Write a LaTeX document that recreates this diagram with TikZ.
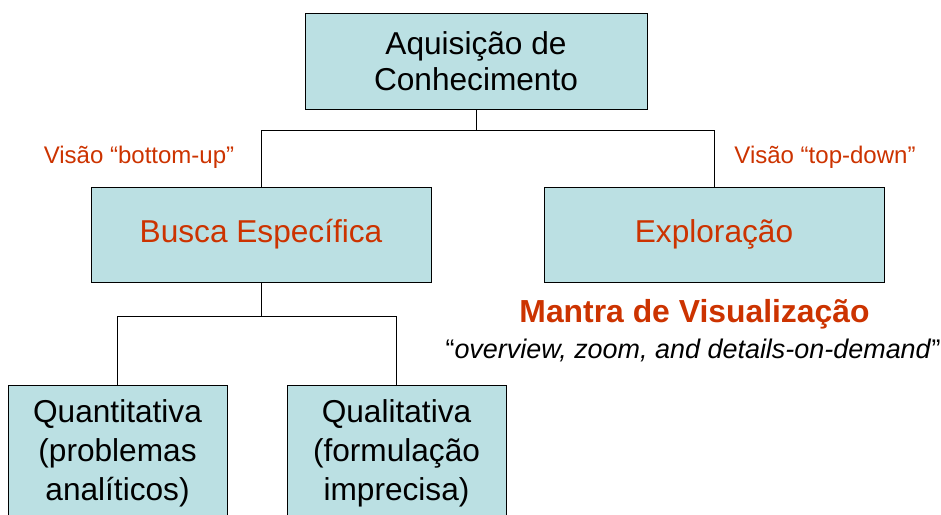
\documentclass[tikz,border=0pt]{standalone}
\usepackage{fontspec}
\setmainfont{Liberation Sans}
\usepackage{tikz}
\usetikzlibrary{positioning}
\usepackage{xcolor}
\definecolor{boxfill}{RGB}{187,224,227}
\definecolor{labelred}{RGB}{204,51,0}

\begin{document}
\begin{tikzpicture}[
    % Node styles
    topic/.style={rectangle, draw=black, line width=0.6pt, fill=boxfill, align=center, inner sep=0pt,
        font=\fontsize{27}{31}\selectfont},
    viewlabel/.style={text=labelred, inner sep=0pt, anchor=base, font=\fontsize{20.5}{24}\selectfont},
    link/.style={draw=black, line width=0.6pt},
]
\useasboundingbox (0,0) rectangle (28.23,-15.45);

% ============================================================================
% TOP: ROOT
% ============================================================================
\node[topic, minimum width=10.26cm, minimum height=2.88cm] (aquisicao) at (14.28, -1.83) {Aquisição de\\Conhecimento};

% ============================================================================
% MIDDLE: TWO APPROACHES
% ============================================================================
\node[topic, minimum width=10.2cm, minimum height=2.85cm, text=labelred] (busca) at (7.83, -7.035) {\raisebox{-2pt}{Busca Específica}};
\node[topic, minimum width=10.2cm, minimum height=2.85cm, text=labelred] (exploracao) at (21.42, -7.035) {\raisebox{-2pt}{Exploração}};

\node[viewlabel] (bottomup) at (4.17, -4.92) {Visão “bottom-up”};
\node[viewlabel] (topdown) at (24.75, -4.92) {Visão “top-down”};

% Mantra below Exploracao
\node[anchor=base, inner sep=0pt, text=labelred, font=\fontsize{27.2}{32}\selectfont\bfseries] (mantra) at (20.835, -9.66) {Mantra de Visualização};
\node[anchor=base, inner sep=0pt, font=\fontsize{23}{27}\selectfont] (overview) at (20.79, -10.74) {“\textit{overview, zoom, and details-on-demand}”};

% ============================================================================
% BOTTOM: KINDS OF SEARCH
% ============================================================================
\node[topic, minimum width=6.57cm, minimum height=4.08cm, font=\fontsize{27}{33}\selectfont] (quanti) at (3.525, -13.6) {Quantitativa\\(problemas\\analíticos)};
\node[topic, minimum width=6.57cm, minimum height=4.08cm, font=\fontsize{27}{33}\selectfont] (quali) at (11.895, -13.6) {Qualitativa\\(formulação\\imprecisa)};

% Connectors
\draw[link] (aquisicao.south) -- ++(0,-0.63) -| (busca.north);
\draw[link] (aquisicao.south) -- ++(0,-0.63) -| (exploracao.north);
\draw[link] (busca.south) -- ++(0,-1.02) -| (quanti.north);
\draw[link] (busca.south) -- ++(0,-1.02) -| (quali.north);

\end{tikzpicture}
\end{document}
